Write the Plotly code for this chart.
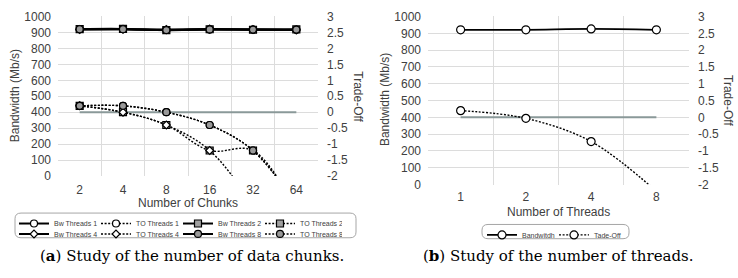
import plotly.graph_objects as go

W, H = 738, 278

# ---------------- data ----------------
chunks = ["2", "4", "8", "16", "32", "64"]
bw_t1 = [920, 921, 916, 918, 918, 917]
bw_t2 = [921, 922, 914, 920, 917, 919]
bw_t4 = [919, 920, 918, 921, 919, 916]
bw_t8 = [920, 920, 915, 919, 918, 918]
to_t1 = [0.2, 0.2, 0.0, -0.4, -1.2, -2.9]
to_t2 = [0.2, 0.0, -0.4, -1.2, -1.2, -3.1]
to_t4 = [0.2, 0.0, -0.4, -1.2, -3.0, -6.0]
to_t8 = [0.2, 0.2, 0.0, -0.4, -1.2, -2.9]
zero_a = [0, 0, 0, 0, 0, 0]

threads = ["1", "2", "4", "8"]
bw_threads = [921, 921, 926, 921]
to_threads = [0.2, -0.03, -0.72, -2.2]
zero_b = [0, 0, 0, 0]

bw_ticks = list(range(0, 1001, 100))
to_ticks = [-2, -1.5, -1, -0.5, 0, 0.5, 1, 1.5, 2, 2.5, 3]


def px(x):
    return x / W


def py(y):
    return 1 - y / H


fig = go.Figure()

FONT = "Liberation Sans"
TXT = "#404040"
GRID = "#dcdcdc"
ZERO = "#8a9999"
DOT = "2px,1.6px"

series_a = [
    ("Bw Threads 1", bw_t1, "y", "solid", "circle", "white", "legend"),
    ("TO Threads 1", to_t1, "y2", DOT, "circle", "white", "legend"),
    ("Bw Threads 2", bw_t2, "y", "solid", "square", "#a0a0a0", "legend"),
    ("TO Threads 2", to_t2, "y2", DOT, "square", "#a0a0a0", "legend"),
    ("Bw Threads 4", bw_t4, "y", "solid", "diamond", "white", "legend2"),
    ("TO Threads 4", to_t4, "y2", DOT, "diamond", "white", "legend2"),
    ("Bw Threads 8", bw_t8, "y", "solid", "circle", "#999999", "legend2"),
    ("TO Threads 8", to_t8, "y2", DOT, "circle", "#999999", "legend2"),
]

# zero line chart a
fig.add_trace(go.Scatter(x=chunks, y=zero_a, xaxis="x", yaxis="y2", mode="lines",
                         line=dict(color=ZERO, width=2), showlegend=False, hoverinfo="skip"))

for name, vals, ya, dash, sym, fill, leg in series_a:
    fig.add_trace(go.Scatter(
        x=chunks, y=vals, xaxis="x", yaxis=ya, name=name, legend=leg,
        mode="lines+markers",
        line=dict(color="black", width=2 if dash == "solid" else 1.4, dash=dash,
                  shape="spline", smoothing=1),
        marker=dict(symbol=sym, size=7 if sym != "diamond" else 6, color=fill,
                    line=dict(color="black", width=1.2)),
    ))

# chart b
fig.add_trace(go.Scatter(x=threads, y=zero_b, xaxis="x2", yaxis="y4", mode="lines",
                         line=dict(color=ZERO, width=2), showlegend=False, hoverinfo="skip"))
fig.add_trace(go.Scatter(
    x=threads, y=bw_threads, xaxis="x2", yaxis="y3", name="Bandwitdh", legend="legend3",
    mode="lines+markers",
    line=dict(color="black", width=1.8, shape="spline", smoothing=1),
    marker=dict(symbol="circle", size=8, color="white", line=dict(color="black", width=1.2)),
))
fig.add_trace(go.Scatter(
    x=threads, y=to_threads, xaxis="x2", yaxis="y4", name="Tade-Off", legend="legend3",
    mode="lines+markers",
    line=dict(color="black", width=1.4, dash=DOT, shape="spline", smoothing=1),
    marker=dict(symbol="circle", size=8, color="white", line=dict(color="black", width=1.2)),
))

tickfont = dict(family=FONT, size=12, color=TXT)


def xaxis(dom, n, standoff):
    return dict(domain=dom, type="category", range=[-0.5, n - 0.5], tickson="boundaries",
                showgrid=True, gridcolor=GRID, gridwidth=1, ticks="", showline=False,
                zeroline=False, tickfont=tickfont, ticklabelstandoff=standoff, fixedrange=True)


def yleft(dom, xa):
    return dict(domain=dom, anchor=xa, range=[0, 1000], tickvals=bw_ticks, showgrid=True,
                gridcolor=GRID, gridwidth=1, zeroline=False, ticks="", tickfont=tickfont,
                ticklabelstandoff=6, showline=False)


def yright(ov, xa):
    return dict(overlaying=ov, anchor=xa, side="right", range=[-2, 3], tickvals=to_ticks,
                ticktext=[("%g" % v) for v in to_ticks], showgrid=False, zeroline=False,
                ticks="", tickfont=tickfont, ticklabelstandoff=8, showline=False)


xa_dom = [px(58), px(318)]
ya_dom = [py(178), py(10)]
xb_dom = [px(428), px(689)]
yb_dom = [py(187), py(10)]

leg_common = dict(orientation="h", xanchor="left", yanchor="middle", bgcolor="rgba(0,0,0,0)",
                  borderwidth=0, font=dict(family=FONT, size=7, color=TXT),
                  entrywidth=37, entrywidthmode="pixels", itemwidth=30, tracegroupgap=0)

fig.update_layout(
    width=W, height=H, margin=dict(l=0, r=0, t=0, b=0),
    paper_bgcolor="white", plot_bgcolor="white",
    xaxis=dict(xaxis(xa_dom, 6, 5), anchor="y"),
    yaxis=yleft(ya_dom, "x"),
    yaxis2=yright("y", "x"),
    xaxis2=dict(xaxis(xb_dom, 4, 3), anchor="y3"),
    yaxis3=yleft(yb_dom, "x2"),
    yaxis4=yright("y3", "x2"),
    legend=dict(leg_common, x=px(14), y=py(228)),
    legend2=dict(leg_common, x=px(14), y=py(239)),
    legend3=dict(leg_common, x=px(482), y=py(240), entrywidth=27),
    showlegend=True,
)


def rrect(x0, y0, x1, y1, r):
    X = lambda v: px(v)
    Y = lambda v: py(v)
    return (f"M {X(x0 + r)} {Y(y0)} L {X(x1 - r)} {Y(y0)} Q {X(x1)} {Y(y0)} {X(x1)} {Y(y0 + r)} "
            f"L {X(x1)} {Y(y1 - r)} Q {X(x1)} {Y(y1)} {X(x1 - r)} {Y(y1)} "
            f"L {X(x0 + r)} {Y(y1)} Q {X(x0)} {Y(y1)} {X(x0)} {Y(y1 - r)} "
            f"L {X(x0)} {Y(y0 + r)} Q {X(x0)} {Y(y0)} {X(x0 + r)} {Y(y0)} Z")


fig.add_shape(type="path", xref="paper", yref="paper", path=rrect(15, 217, 356, 243, 6),
              line=dict(color="#a6a6a6", width=1))
fig.add_shape(type="path", xref="paper", yref="paper", path=rrect(482, 229, 629, 244, 6),
              line=dict(color="#a6a6a6", width=1))

ann = dict(xref="paper", yref="paper", showarrow=False, xanchor="center", yanchor="middle")
titlefont = dict(family=FONT, size=12, color=TXT)
fig.add_annotation(ann, x=px(188), y=py(206), text="Number of Chunks", font=titlefont)
fig.add_annotation(ann, x=px(558), y=py(216), text="Number of Threads", font=titlefont)
fig.add_annotation(ann, x=px(15), y=py(94), text="Bandwidth (Mb/s)", textangle=-90, font=titlefont)
fig.add_annotation(ann, x=px(385), y=py(98), text="Bandwidth (Mb/s)", textangle=-90, font=titlefont)
fig.add_annotation(ann, x=px(358), y=py(94), text="Trade-Off", textangle=90, font=titlefont)
fig.add_annotation(ann, x=px(728), y=py(98), text="Trade-Off", textangle=90, font=titlefont)

capfont = dict(family="DejaVu Serif", size=15, color="black")
fig.add_annotation(ann, x=px(192), y=py(262), text="(<b>a</b>) Study of the number of data chunks.",
                   font=capfont)
fig.add_annotation(ann, x=px(558), y=py(262), text="(<b>b</b>) Study of the number of threads.",
                   font=capfont)

fig.write_html("out.html")
